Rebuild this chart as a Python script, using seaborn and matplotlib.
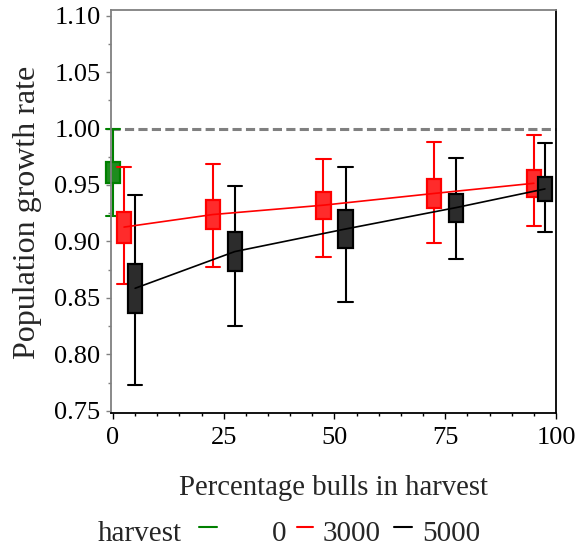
import numpy as np
import pandas as pd
import matplotlib
matplotlib.use("Agg")
import matplotlib.pyplot as plt
from matplotlib.lines import Line2D
from matplotlib.ticker import MultipleLocator
import seaborn as sns

# Percentage of bulls in the harvest (tick positions)
pct_bulls = [0, 25, 50, 75, 100]
harvest_levels = ["0", "3000", "5000"]

# Plotting positions (clustered around each percentage)
pos_0 = [0.0]
pos_3000 = [2.5, 22.5, 47.5, 72.5, 95.0]
pos_5000 = [5.0, 27.5, 52.5, 77.5, 97.5]

# harvest = 0
mean_0 = [0.961]
q1_0 = [0.9516]
q3_0 = [0.9707]
lo_0 = [0.9227]
hi_0 = [1.000]

# harvest = 3000
mean_3000 = [0.9127, 0.9238, 0.9321, 0.9425, 0.9515]
q1_3000 = [0.8988, 0.9111, 0.9200, 0.9297, 0.9392]
q3_3000 = [0.9265, 0.9365, 0.9442, 0.9554, 0.9637]
lo_3000 = [0.862, 0.877, 0.886, 0.899, 0.914]
hi_3000 = [0.966, 0.969, 0.973, 0.988, 0.994]

# harvest = 5000
mean_5000 = [0.8585, 0.8910, 0.9110, 0.9300, 0.9465]
q1_5000 = [0.837, 0.874, 0.8943, 0.9173, 0.936]
q3_5000 = [0.880, 0.908, 0.928, 0.9424, 0.957]
lo_5000 = [0.773, 0.8255, 0.846, 0.884, 0.908]
hi_5000 = [0.941, 0.949, 0.966, 0.974, 0.987]

line_colors = {"0": "#008000", "3000": "#ff0000", "5000": "#000000"}
fill_colors = {"0": "#1e8c1e", "3000": "#ff2b2b", "5000": "#2c2c2c"}

series = {
    "0": (pos_0, mean_0, q1_0, q3_0, lo_0, hi_0),
    "3000": (pos_3000, mean_3000, q1_3000, q3_3000, lo_3000, hi_3000),
    "5000": (pos_5000, mean_5000, q1_5000, q3_5000, lo_5000, hi_5000),
}

SERIF = ["Liberation Serif", "DejaVu Serif"]
sns.set_theme(style="ticks")
plt.rcParams["font.family"] = SERIF

W, H = 584, 550
fig = plt.figure(figsize=(W / 100, H / 100), dpi=100)
ax = fig.add_axes([111 / W, 1 - 413 / H, 445 / W, 403 / H])

# Reference line at lambda = 1
ax.axhline(1.0, color="#808080", lw=2.2, dashes=(3, 1.4), zorder=1)

# Box-and-whisker summaries for each harvest level
for level in harvest_levels:
    pos, mean, q1, q3, lo, hi = series[level]
    stats = [dict(med=m, q1=a, q3=b, whislo=l, whishi=h, fliers=[])
             for m, a, b, l, h in zip(mean, q1, q3, lo, hi)]
    col = line_colors[level]
    ax.bxp(stats, positions=pos, widths=3.2, capwidths=3.2, patch_artist=True,
           showfliers=False, manage_ticks=False,
           boxprops=dict(facecolor=fill_colors[level], edgecolor=col, linewidth=1.6),
           whiskerprops=dict(color=col, linewidth=1.5),
           capprops=dict(color=col, linewidth=1.5),
           medianprops=dict(linewidth=0))

for art in ax.patches + ax.lines:
    art.set_clip_on(False)

# Lines joining the group means
means_df = pd.DataFrame({
    "pos": pos_3000 + pos_5000,
    "mean": mean_3000 + mean_5000,
    "harvest": ["3000"] * len(pos_3000) + ["5000"] * len(pos_5000),
})
sns.lineplot(data=means_df, x="pos", y="mean", hue="harvest",
             palette={k: line_colors[k] for k in ["3000", "5000"]},
             linewidth=1.2, legend=False, ax=ax, zorder=5, sort=True)

ax.set_xlim(-0.45, 100)
ax.set_ylim(0.748, 1.105)
ax.set_xticks(pct_bulls)
ax.set_xticklabels([str(p) for p in pct_bulls], fontfamily=SERIF)
ax.xaxis.set_minor_locator(MultipleLocator(5))
yt = np.arange(0.75, 1.1001, 0.05)
ax.set_yticks(yt)
ax.set_yticklabels([f"{v:.2f}" for v in yt], fontfamily=SERIF)
ax.yaxis.set_minor_locator(MultipleLocator(0.025))

ax.tick_params(axis="both", labelsize=19, colors="black")
ax.tick_params(axis="y", which="major", length=3.6, width=1, color="#808080", pad=4)
ax.tick_params(axis="y", which="minor", length=2.2, width=1, color="#808080")
ax.tick_params(axis="x", which="major", length=4.3, width=1, color="black", pad=6)
ax.tick_params(axis="x", which="minor", length=2.2, width=1, color="black")

for side in ["left", "top"]:
    ax.spines[side].set_color("#808080")
    ax.spines[side].set_linewidth(1.3)
for side in ["right", "bottom"]:
    ax.spines[side].set_color("black")
    ax.spines[side].set_linewidth(1.3)
ax.spines["top"].set_visible(True)
ax.spines["right"].set_visible(True)

ax.set_xlabel("Percentage bulls in harvest", fontsize=20.7, fontfamily=SERIF)
ax.xaxis.label.set_va("center")
ax.xaxis.set_label_coords(0.5, (413 - 488) / 403)
ax.set_ylabel("Population growth rate", fontsize=23, fontfamily=SERIF)
ax.yaxis.label.set_va("center")
ax.yaxis.set_label_coords((28 - 111) / 445, (413 - 212) / 403)

# Legend row along the bottom
base = 1 - 541 / H
fig.text(98 / W, base, "harvest", fontsize=21, ha="left", va="baseline", fontfamily=SERIF)
for level, x0, x1 in [("0", 199, 217), ("3000", 297, 313), ("5000", 394, 412)]:
    fig.add_artist(Line2D([x0 / W, x1 / W], [1 - 527 / H, 1 - 527 / H],
                          color=line_colors[level], lw=1.5, transform=fig.transFigure))
for level, tx in [("0", 272), ("3000", 323), ("5000", 422)]:
    fig.text(tx / W, base, level, fontsize=21, ha="left", va="baseline", fontfamily=SERIF)

fig.savefig("out.png", dpi=100)
